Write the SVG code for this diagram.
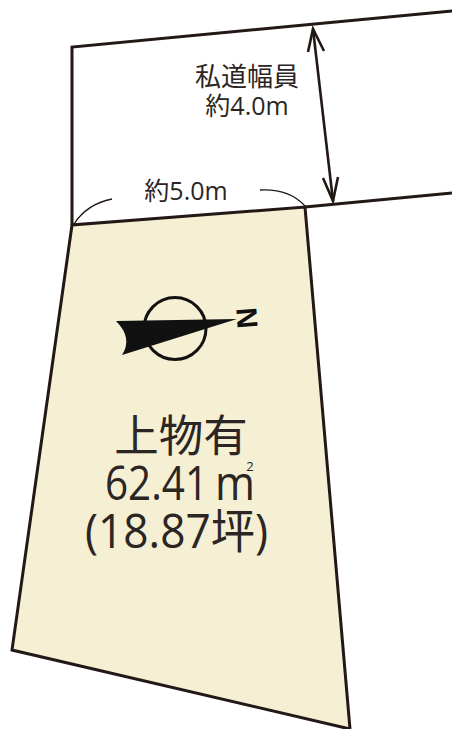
<svg xmlns="http://www.w3.org/2000/svg" width="452" height="729" viewBox="0 0 452 729">
<defs><style>
.t{font-family:"Noto Sans CJK JP","Open Sans",sans-serif;fill:#2b2523;text-anchor:middle}
.o{font-family:"Open Sans","Noto Sans CJK JP",sans-serif;fill:#2b2523;text-anchor:middle}
.s{font-family:"Open Sans","Noto Sans CJK JP",sans-serif;fill:#2b2523}
.j{font-family:"Noto Sans CJK JP",sans-serif}
.l{fill:none;stroke:#231815;stroke-width:3}
.a{fill:none;stroke:#231815;stroke-width:2.6}
.c{fill:none;stroke:#231815;stroke-width:1.3}
</style></defs>
<rect width="452" height="729" fill="#fff"/>
<g id="road">
<path class="l" d="M452 11L72 47V225"/>
<path class="l" d="M305 207L452 193"/>
</g>
<g id="lot">
<path d="M72 225L305 207L350 729L12 650Z" fill="#f5efd3"/>
<path d="M350 729L305 207L72 225L12 650L350 729" fill="none" stroke="#231815" stroke-width="3"/>
</g>
<g id="connectors">
<path class="a" d="M313 29L333 201"/>
<path class="a" d="M308 52L313 29L324 51"/>
<path class="a" d="M323 178L333 201L338 177"/>
<path class="c" d="M74 224C83 210 97 202 112 199"/>
<path class="c" d="M260 190C280 189 295 195 305 206"/>
</g>
<g id="label-road">
<text class="t" x="247" y="86" font-size="26">私道幅員</text>
<text class="o" x="247" y="115" font-size="25"><tspan class="j">約</tspan>4.0m</text>
</g>
<g id="label-front">
<text class="o" x="186" y="200" font-size="25"><tspan class="j">約</tspan>5.0m</text>
</g>
<g id="compass">
<circle cx="175" cy="328.500" r="31" fill="none" stroke="#111" stroke-width="3"/>
<path d="M116 321L237 319L122 355Q133 338 116 321Z" fill="#111"/>
<text x="247" y="318" transform="rotate(86 247 318)" font-family="Liberation Sans,sans-serif" font-size="29" font-weight="bold" fill="#111" text-anchor="middle" dominant-baseline="central">N</text>
</g>
<g id="label-main">
<text class="t" x="181" y="452" font-size="44.500">上物有</text>
<text class="s" x="105" y="500" font-size="47" textLength="103" lengthAdjust="spacingAndGlyphs">62.41</text>
<text class="s" x="215" y="500" font-size="47" textLength="40" lengthAdjust="spacingAndGlyphs">m</text>
<text class="o" x="250" y="471" font-size="13">2</text>
<text class="s" x="85" y="548" font-size="47" textLength="183" lengthAdjust="spacingAndGlyphs">(18.87<tspan class="j">坪</tspan>)</text>
</g>
</svg>
